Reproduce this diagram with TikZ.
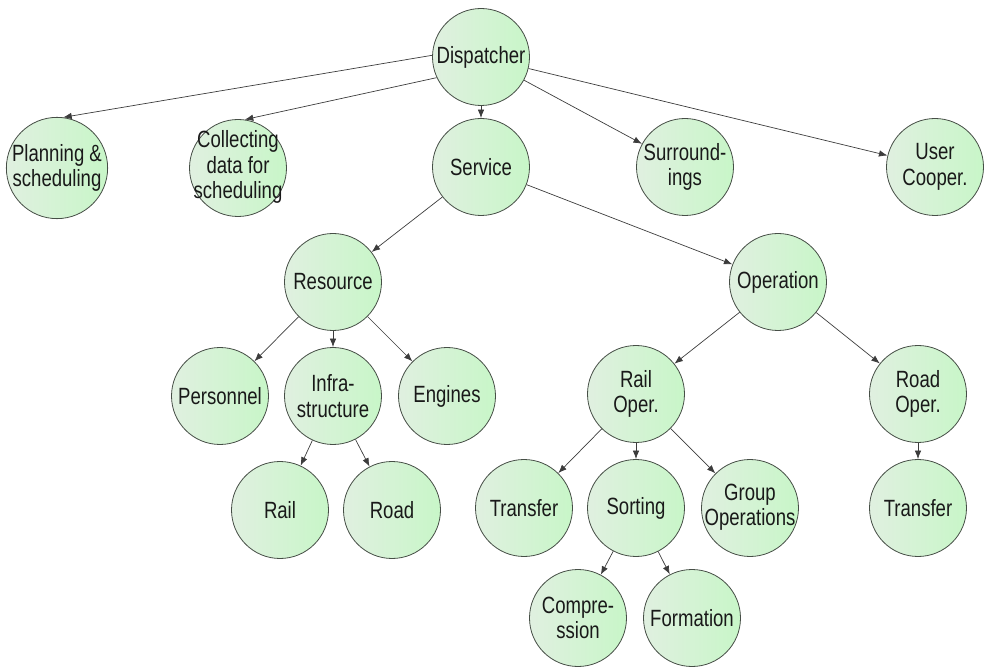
\documentclass[tikz,border=0pt]{standalone}
\usepackage{fontspec}
\setmainfont{Liberation Sans}[FakeStretch=0.79]
\usetikzlibrary{arrows.meta}
\definecolor{nodeedge}{RGB}{70,78,70}
\definecolor{fillL}{RGB}{224,240,224}
\definecolor{fillR}{RGB}{200,246,200}
\definecolor{linecol}{RGB}{60,60,60}
\definecolor{txt}{RGB}{25,25,25}
\newcommand{\overflowtext}[1]{\makebox[0pt]{\begin{tabular}{@{}c@{}}#1\end{tabular}}}
\begin{document}
\begin{tikzpicture}[x=1pt,y=-1pt,
  circ/.style={circle, draw=nodeedge, line width=0.8pt, minimum size=97pt,
    inner sep=0pt, align=center, left color=fillL, right color=fillR,
    text=txt, font=\fontsize{23.5}{25.5}\selectfont},
  conn/.style={draw=linecol, line width=0.7pt, -{Latex[length=8.5pt,width=6.5pt]}}]
\useasboundingbox (0,0) rectangle (986,668);
% row 0
\node[circ] (disp) at (481,57) {Dispatcher};
% row 1
\node[circ] (plan) at (57,168) {Planning \&\\scheduling};
\node[circ] (coll) at (238,168) {\overflowtext{Collecting\\data for\\scheduling}};
\node[circ] (serv) at (481,167) {Service};
\node[circ] (surr) at (685,167) {Surround-\\ings};
\node[circ] (user) at (935,167) {User\\Cooper.};
% row 2
\node[circ] (res) at (333,282) {Resource};
\node[circ] (oper) at (778,282) {Operation};
% row 3
\node[circ] (pers) at (220,396) {Personnel};
\node[circ] (infra) at (333,396) {Infra-\\structure};
\node[circ] (eng) at (447,396) {Engines};
\node[circ] (railop) at (636,394) {Rail\\Oper.};
\node[circ] (roadop) at (918,394) {Road\\Oper.};
% row 4
\node[circ] (rail) at (280,510) {Rail};
\node[circ] (road) at (392,510) {Road};
\node[circ] (trans) at (524,508) {Transfer};
\node[circ] (sort) at (636,508) {Sorting};
\node[circ] (group) at (750,508) {\overflowtext{Group\\Operations}};
\node[circ] (trans2) at (918,508) {Transfer};
% row 5
\node[circ] (comp) at (578,618) {Compre-\\ssion};
\node[circ] (form) at (692,618) {Formation};
% connectors
\draw[conn] (disp.178) -- (plan.83);
\draw[conn] (disp.205) -- (coll.82);
\draw[conn] (disp) -- (serv);
\draw[conn] (disp) -- (surr);
\draw[conn] (disp) -- (user);
\draw[conn] (serv) -- (res);
\draw[conn] (serv) -- (oper);
\draw[conn] (res) -- (pers);
\draw[conn] (res) -- (infra);
\draw[conn] (res) -- (eng);
\draw[conn] (infra) -- (rail);
\draw[conn] (infra) -- (road);
\draw[conn] (oper) -- (railop);
\draw[conn] (oper) -- (roadop);
\draw[conn] (railop) -- (trans);
\draw[conn] (railop) -- (sort);
\draw[conn] (railop) -- (group);
\draw[conn] (roadop) -- (trans2);
\draw[conn] (sort) -- (comp);
\draw[conn] (sort) -- (form);
\end{tikzpicture}
\end{document}
